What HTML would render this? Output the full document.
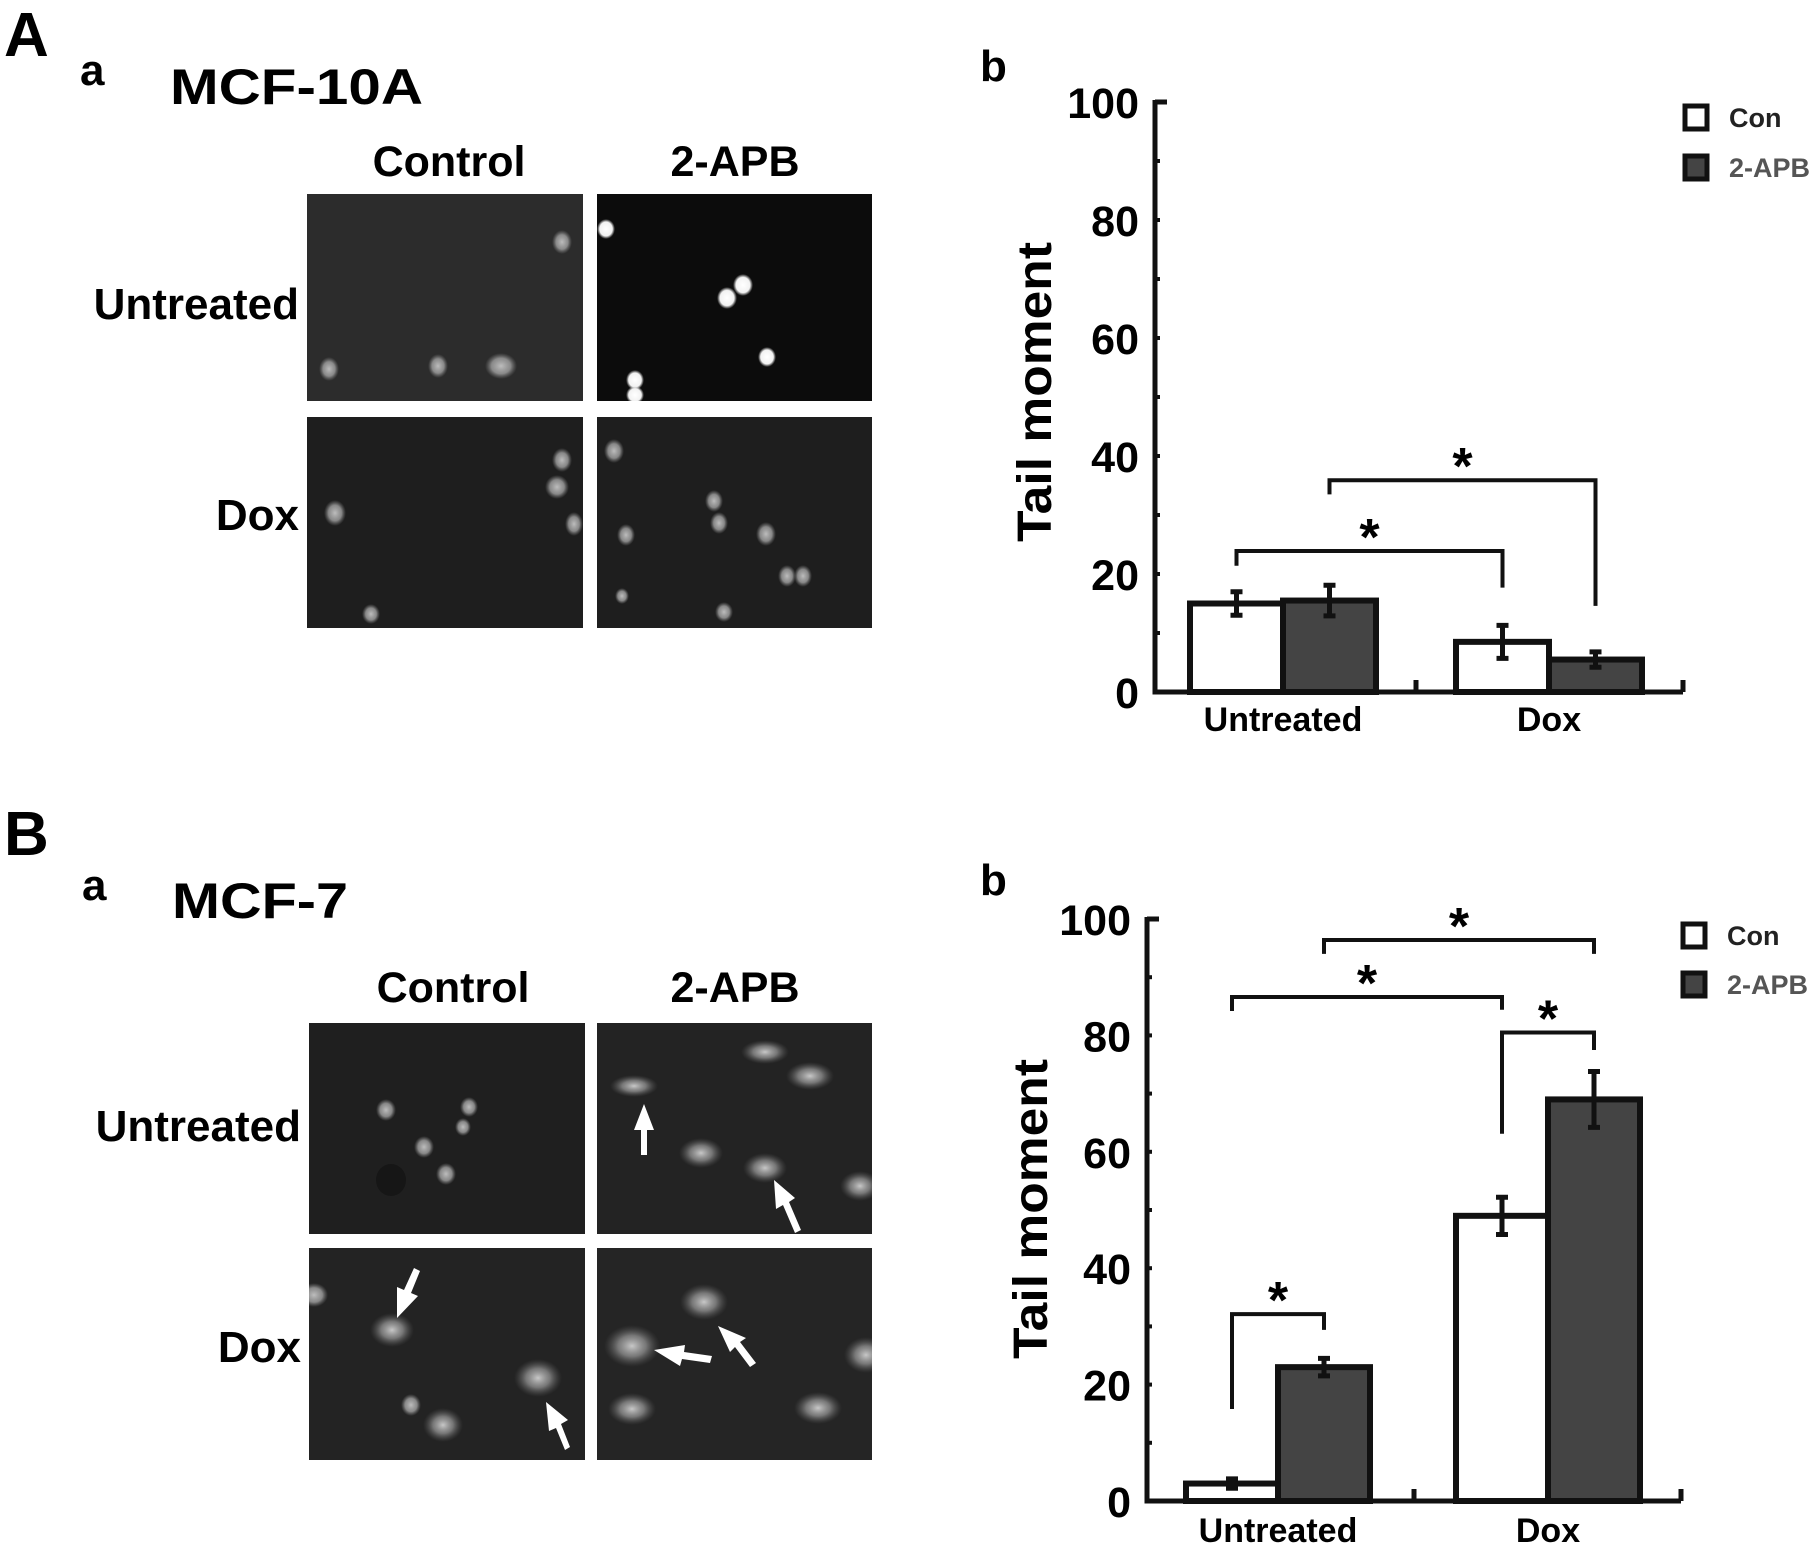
<!DOCTYPE html>
<html><head><meta charset="utf-8"><style>
html,body{margin:0;padding:0;background:#fff}
svg{display:block}
text{font-family:"Liberation Sans",Arial,sans-serif;font-weight:bold}
</style></head><body>
<svg id="fig" width="1817" height="1548" viewBox="0 0 1817 1548" xmlns="http://www.w3.org/2000/svg">
<defs>
<radialGradient id="spot" cx="50%" cy="50%" r="50%"><stop offset="0" stop-color="#bdbdbd"/><stop offset="0.6" stop-color="#9a9a9a" stop-opacity="0.85"/><stop offset="1" stop-color="#777" stop-opacity="0"/></radialGradient>
<radialGradient id="spotW" cx="50%" cy="50%" r="50%"><stop offset="0" stop-color="#fff"/><stop offset="0.7" stop-color="#f2f2f2"/><stop offset="1" stop-color="#ccc" stop-opacity="0"/></radialGradient>
<radialGradient id="spotC" cx="50%" cy="50%" r="50%"><stop offset="0" stop-color="#c8c8c8"/><stop offset="0.5" stop-color="#8c8c8c" stop-opacity="0.8"/><stop offset="1" stop-color="#555" stop-opacity="0"/></radialGradient>
<clipPath id="c1"><rect x="307" y="194" width="276" height="207"/></clipPath>
<clipPath id="c2"><rect x="597" y="194" width="275" height="207"/></clipPath>
<clipPath id="c3"><rect x="307" y="417" width="276" height="211"/></clipPath>
<clipPath id="c4"><rect x="597" y="417" width="275" height="211"/></clipPath>
<clipPath id="c5"><rect x="309" y="1023" width="276" height="211"/></clipPath>
<clipPath id="c6"><rect x="597" y="1023" width="275" height="211"/></clipPath>
<clipPath id="c7"><rect x="309" y="1248" width="276" height="212"/></clipPath>
<clipPath id="c8"><rect x="597" y="1248" width="275" height="212"/></clipPath>
</defs>

<text x="4" y="56" font-size="62">A</text>
<text x="80" y="85" font-size="44">a</text>
<text x="170" y="104" font-size="50" textLength="253" lengthAdjust="spacingAndGlyphs">MCF-10A</text>
<text x="449" y="176" font-size="43" text-anchor="middle">Control</text>
<text x="735" y="176" font-size="43" text-anchor="middle">2-APB</text>
<text x="299" y="319" font-size="44" text-anchor="end">Untreated</text>
<text x="299" y="530" font-size="44" text-anchor="end">Dox</text>

<g clip-path="url(#c1)">
<rect x="307" y="194" width="276" height="207" fill="#2c2c2c"/>
<ellipse cx="562" cy="242" rx="10" ry="12" fill="url(#spot)"/>
<ellipse cx="329" cy="369" rx="10" ry="12" fill="url(#spot)"/>
<ellipse cx="438" cy="366" rx="10" ry="12" fill="url(#spot)"/>
<ellipse cx="501" cy="366" rx="16" ry="13" fill="url(#spot)"/>
</g>
<g clip-path="url(#c2)">
<rect x="597" y="194" width="275" height="207" fill="#0c0c0c"/>
<ellipse cx="606" cy="229" rx="9" ry="10" fill="url(#spotW)"/>
<ellipse cx="743" cy="285" rx="10" ry="11" fill="url(#spotW)"/>
<ellipse cx="727" cy="298" rx="10" ry="11" fill="url(#spotW)"/>
<ellipse cx="767" cy="357" rx="9" ry="10" fill="url(#spotW)"/>
<ellipse cx="635" cy="380" rx="9" ry="10" fill="url(#spotW)"/>
<ellipse cx="635" cy="395" rx="9" ry="9" fill="url(#spotW)"/>
</g>
<g clip-path="url(#c3)">
<rect x="307" y="417" width="276" height="211" fill="#1e1e1e"/>
<ellipse cx="562" cy="460" rx="10" ry="12" fill="url(#spot)"/>
<ellipse cx="557" cy="487" rx="12" ry="12" fill="url(#spot)"/>
<ellipse cx="335" cy="513" rx="11" ry="13" fill="url(#spot)"/>
<ellipse cx="574" cy="524" rx="9" ry="12" fill="url(#spot)"/>
<ellipse cx="371" cy="614" rx="9" ry="10" fill="url(#spot)"/>
</g>
<g clip-path="url(#c4)">
<rect x="597" y="417" width="275" height="211" fill="#1e1e1e"/>
<ellipse cx="614" cy="451" rx="10" ry="12" fill="url(#spot)"/>
<ellipse cx="714" cy="501" rx="9" ry="11" fill="url(#spot)"/>
<ellipse cx="719" cy="523" rx="9" ry="11" fill="url(#spot)"/>
<ellipse cx="766" cy="534" rx="10" ry="12" fill="url(#spot)"/>
<ellipse cx="626" cy="535" rx="9" ry="11" fill="url(#spot)"/>
<ellipse cx="787" cy="576" rx="9" ry="11" fill="url(#spot)"/>
<ellipse cx="803" cy="576" rx="9" ry="11" fill="url(#spot)"/>
<ellipse cx="622" cy="596" rx="7" ry="8" fill="url(#spot)"/>
<ellipse cx="724" cy="612" rx="9" ry="10" fill="url(#spot)"/>
</g>

<text x="4" y="855" font-size="62">B</text>
<text x="82" y="900" font-size="44">a</text>
<text x="172" y="918" font-size="50" textLength="176" lengthAdjust="spacingAndGlyphs">MCF-7</text>
<text x="453" y="1002" font-size="43" text-anchor="middle">Control</text>
<text x="735" y="1002" font-size="43" text-anchor="middle">2-APB</text>
<text x="301" y="1141" font-size="44" text-anchor="end">Untreated</text>
<text x="301" y="1362" font-size="44" text-anchor="end">Dox</text>

<g clip-path="url(#c5)">
<rect x="309" y="1023" width="276" height="211" fill="#1f1f1f"/>
<ellipse cx="386" cy="1110" rx="10" ry="11" fill="url(#spot)"/>
<ellipse cx="469" cy="1107" rx="9" ry="10" fill="url(#spot)"/>
<ellipse cx="463" cy="1127" rx="8" ry="9" fill="url(#spot)"/>
<ellipse cx="424" cy="1147" rx="10" ry="11" fill="url(#spot)"/>
<ellipse cx="446" cy="1174" rx="10" ry="11" fill="url(#spot)"/>
<ellipse cx="391" cy="1180" rx="15" ry="16" fill="#161616"/>
</g>
<g clip-path="url(#c6)">
<rect x="597" y="1023" width="275" height="211" fill="#232323"/>
<ellipse cx="634" cy="1086" rx="24" ry="11" fill="url(#spotC)"/>
<ellipse cx="765" cy="1052" rx="24" ry="12" fill="url(#spotC)"/>
<ellipse cx="810" cy="1076" rx="24" ry="14" fill="url(#spotC)"/>
<ellipse cx="701" cy="1153" rx="22" ry="15" fill="url(#spotC)"/>
<ellipse cx="765" cy="1168" rx="22" ry="15" fill="url(#spotC)"/>
<ellipse cx="860" cy="1186" rx="20" ry="15" fill="url(#spotC)"/>
<path d="M641,1155 L641,1130 L634,1130 L644,1104 L654,1130 L647,1130 L647,1155Z" fill="#fff"/>
<path d="M795,1233 L783,1205 L776,1209 L774,1180 L795,1198 L789,1202 L801,1230Z" fill="#fff"/>
</g>
<g clip-path="url(#c7)">
<rect x="309" y="1248" width="276" height="212" fill="#232323"/>
<ellipse cx="314" cy="1295" rx="14" ry="12" fill="url(#spot)"/>
<ellipse cx="392" cy="1330" rx="22" ry="17" fill="url(#spotC)"/>
<ellipse cx="538" cy="1378" rx="24" ry="19" fill="url(#spotC)"/>
<ellipse cx="411" cy="1405" rx="10" ry="11" fill="url(#spot)"/>
<ellipse cx="443" cy="1425" rx="20" ry="17" fill="url(#spotC)"/>
<path d="M414,1268 L404,1290 L397,1287 L397,1318 L418,1296 L411,1293 L420,1271Z" fill="#fff"/>
<path d="M565,1450 L556,1428 L549,1431 L546,1402 L568,1420 L561,1424 L570,1447Z" fill="#fff"/>
</g>
<g clip-path="url(#c8)">
<rect x="597" y="1248" width="275" height="212" fill="#252525"/>
<ellipse cx="704" cy="1302" rx="24" ry="18" fill="url(#spotC)"/>
<ellipse cx="632" cy="1346" rx="28" ry="21" fill="url(#spotC)"/>
<ellipse cx="632" cy="1409" rx="24" ry="16" fill="url(#spotC)"/>
<ellipse cx="818" cy="1408" rx="24" ry="16" fill="url(#spotC)"/>
<ellipse cx="866" cy="1355" rx="22" ry="18" fill="url(#spotC)"/>
<path d="M712,1356 L684,1352 L685,1345 L654,1350 L680,1366 L682,1359 L710,1363Z" fill="#fff"/>
<path d="M756,1363 L740,1342 L746,1338 L718,1326 L730,1352 L735,1347 L750,1367Z" fill="#fff"/>
</g>

<g id="chartA"></g>
<g id="chartB"></g>
</svg>
<script>
var groups = ["Untreated", "Dox"];
var seriesNames = ["Con", "2-APB"];
var yTicks = [0, 20, 40, 60, 80, 100];
var aCon = [15, 8.5];
var aApb = [15.5, 5.5];
var aConErr = [2, 2.8];
var aApbErr = [2.6, 1.3];
var bCon = [3, 49];
var bApb = [23, 69];
var bConErr = [0.8, 3.2];
var bApbErr = [1.5, 4.8];
// brackets: [leftGroup, leftSeries, rightGroup, rightSeries, topValue, leftLegEnd, rightLegEnd]
var aBrackets = [[0,0,1,0,23.9,21.4,17.7],[0,1,1,1,35.9,33.5,14.6]];
var bBrackets = [[0,0,0,1,32.1,15.8,29.4],[0,0,1,0,86.6,84.2,84.4],[0,1,1,1,96.4,94,94],[1,0,1,1,80.5,63.1,77.5]];

var NS = "http://www.w3.org/2000/svg";
function mk(parent, tag, attrs, txt) {
  var e = document.createElementNS(NS, tag);
  for (var k in attrs) e.setAttribute(k, attrs[k]);
  if (txt !== undefined) e.textContent = txt;
  parent.appendChild(e);
  return e;
}
function drawChart(g, cfg, con, apb, conErr, apbErr, brackets) {
  var y = function (v) { return cfg.y0 - (v / 100) * (cfg.y0 - cfg.y100); };
  var barW = cfg.barW;
  var xBar = function (gi, si) { return cfg.groupStart[gi] + si * barW; };
  var xMid = function (gi, si) { return xBar(gi, si) + barW / 2; };
  var lb = mk(g, "text", {x: cfg.lx, y: cfg.ly, "font-size": 44});
  lb.textContent = "b";
  
  
  var vals = [con, apb], errs = [conErr, apbErr];
  for (var si = 0; si < 2; si++) {
    for (var gi = 0; gi < groups.length; gi++) {
      var v = vals[si][gi];
      var r = mk(g, "rect", {x: xBar(gi, si), y: y(v), width: barW, height: y(0) - y(v), fill: si === 0 ? "#fff" : "#444", stroke: "#111", "stroke-width": 6});
      
      
    }
  }
  for (var si = 0; si < 2; si++) {
    for (var gi = 0; gi < groups.length; gi++) {
      var v = vals[si][gi], e = errs[si][gi], cx = xMid(gi, si);
      var eb = mk(g, "path", {d: "M" + cx + "," + y(v + e) + "V" + y(v - e) + "M" + (cx - 6) + "," + y(v + e) + "H" + (cx + 6) + "M" + (cx - 6) + "," + y(v - e) + "H" + (cx + 6), stroke: "#111", "stroke-width": 5, fill: "none"});
      
      
    }
  }
  var ax = mk(g, "path", {d: "M" + cfg.ax + "," + (y(100) - 2) + "V" + y(0) + "H" + cfg.xEnd + "M" + cfg.ax + "," + y(100) + "h12M" + cfg.mid + "," + y(0) + "v-12M" + cfg.xEnd + "," + y(0) + "v-12", stroke: "#111", "stroke-width": 5, fill: "none"});
  
  
  for (var t = 10; t < 100; t += 10) {
    var tk = mk(g, "line", {x1: cfg.ax, x2: cfg.ax + 5, y1: y(t), y2: y(t), stroke: "#111", "stroke-width": 4});
    
    
  }
  for (var i = 0; i < yTicks.length; i++) {
    var tl = mk(g, "text", {x: cfg.ax - 16, y: y(yTicks[i]) + 16, "font-size": 43, "text-anchor": "end"}, String(yTicks[i]));
    
    
  }
  var yt = mk(g, "text", {x: 0, y: 0, "font-size": 48, "text-anchor": "middle", transform: "translate(" + (cfg.titleX) + "," + cfg.titleY + ") rotate(-90)", textLength: 300, lengthAdjust: "spacingAndGlyphs"}, "Tail moment");
  
  
  for (var gi = 0; gi < groups.length; gi++) {
    var xl = mk(g, "text", {x: xBar(gi, 1), y: cfg.xlY, "font-size": 34, "text-anchor": "middle"}, groups[gi]);
    
    
  }
  for (var b = 0; b < brackets.length; b++) {
    var br = brackets[b];
    var x1 = xMid(br[0], br[1]), x2 = xMid(br[2], br[3]);
    var p = mk(g, "path", {d: "M" + x1 + "," + y(br[5]) + "V" + y(br[4]) + "H" + x2 + "V" + y(br[6]), stroke: "#111", "stroke-width": 4, fill: "none"});
    
    
    var s = mk(g, "text", {x: (x1 + x2) / 2, y: y(br[4]) + 4, "font-size": 52, "text-anchor": "middle"}, "*");
    
    
  }
  for (var si = 0; si < 2; si++) {
    var ly = cfg.legY + si * cfg.legGap;
    var lr = mk(g, "rect", {x: cfg.legX, y: ly, width: 22, height: 23, fill: si === 0 ? "#fff" : "#444", stroke: "#111", "stroke-width": 5});
    
    
    var lt = mk(g, "text", {x: cfg.legX + 44, y: ly + 21, "font-size": 27, fill: si === 0 ? "#222" : "#555"}, seriesNames[si]);
    
    
  }
}
drawChart(document.getElementById("chartA"), {y0: 692, y100: 102, ax: 1155, xEnd: 1683, mid: 1416, barW: 93, groupStart: [1190, 1456], lx: 980, ly: 81, titleX: 1051, titleY: 392, xlY: 731, legX: 1685, legY: 106, legGap: 50}, aCon, aApb, aConErr, aApbErr, aBrackets);
drawChart(document.getElementById("chartB"), {y0: 1501, y100: 919, ax: 1147, xEnd: 1681, mid: 1414, barW: 92, groupStart: [1186, 1456], lx: 980, ly: 895, titleX: 1047, titleY: 1209, xlY: 1542, legX: 1683, legY: 924, legGap: 49}, bCon, bApb, bConErr, bApbErr, bBrackets);
</script>
</body></html>
